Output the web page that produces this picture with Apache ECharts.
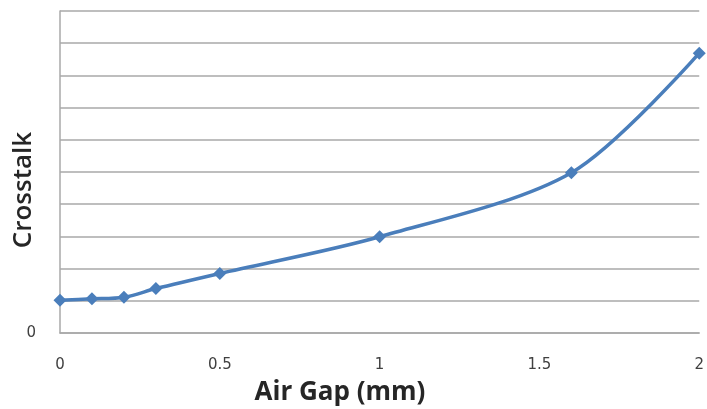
<!DOCTYPE html>
<html>
<head>
<meta charset="utf-8">
<script src="https://cdn.jsdelivr.net/npm/echarts@6/dist/echarts.min.js"></script>
<style>
html,body{margin:0;padding:0;background:#fff;}
#chart{width:707px;height:409px;}
</style>
</head>
<body>
<div id="chart"></div>
<script>
var airGap = [0, 0.1, 0.2, 0.3, 0.5, 1, 1.6, 2];
var crosstalk = [1.02, 1.06, 1.11, 1.38, 1.85, 2.99, 4.98, 8.69];
var xTicks = [0, 0.5, 1, 1.5, 2];
var yTickLabels = ['0'];
var xTitle = 'Air Gap (mm)';
var yTitle = 'Crosstalk';

var points = airGap.map(function (x, i) { return [x, crosstalk[i]]; });
var chart = echarts.init(document.getElementById('chart'), null, {renderer: 'canvas'});
var font = 'Open Sans, DejaVu Sans, sans-serif';
var tickFont = 'DejaVu Sans, sans-serif';
chart.setOption({
  animation: false,
  backgroundColor: '#ffffff',
  grid: {left: 60, right: 3, top: 11, bottom: 76, containLabel: false},
  xAxis: {
    type: 'value', min: xTicks[0], max: xTicks[xTicks.length - 1], interval: 0.5,
    axisLine: {show: true, lineStyle: {color: '#a8a8a8', width: 1.5}},
    axisTick: {show: false},
    splitLine: {show: false},
    axisLabel: {color: '#404040', fontSize: 15, fontFamily: tickFont, margin: 25,
      formatter: function (v) { return xTicks.indexOf(v) >= 0 ? String(v) : ''; }}
  },
  yAxis: {
    type: 'value', min: 0, max: 10, interval: 1,
    axisLine: {show: true, lineStyle: {color: '#a8a8a8', width: 1.5}},
    axisTick: {show: false},
    splitLine: {show: true, lineStyle: {color: '#a8a8a8', width: 1.5}},
    axisLabel: {color: '#404040', fontSize: 15, fontFamily: tickFont, margin: 24,
      formatter: function (v) { return yTickLabels.indexOf(String(v)) >= 0 ? String(v) : ''; }}
  },
  graphic: [
    {type: 'text', x: 340, y: 393, style: {text: xTitle, fill: '#262626', font: 'bold 26px ' + font, align: 'center', verticalAlign: 'middle'}},
    {type: 'text', x: 24, y: 190, rotation: Math.PI / 2, style: {text: yTitle, fill: '#262626', font: '600 26px ' + font, align: 'center', verticalAlign: 'middle'}}
  ],
  series: [{
    type: 'line',
    data: points,
    smooth: 0.3,
    symbol: 'diamond',
    symbolSize: [13, 13],
    lineStyle: {color: '#4a7ebb', width: 3.5},
    itemStyle: {color: '#4a7ebb'}
  }]
});
</script>
</body>
</html>
